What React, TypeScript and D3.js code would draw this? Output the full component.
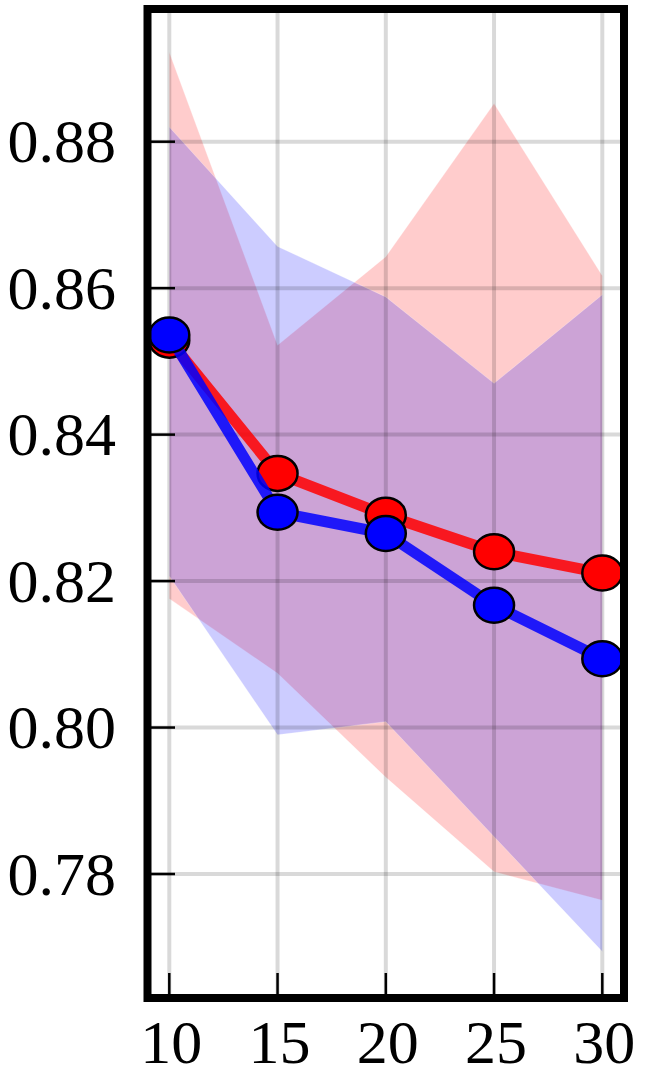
import React from "react";
import * as d3 from "d3";

const xs = [10, 15, 20, 25, 30];
const redMean = [0.8529, 0.8347, 0.829, 0.824, 0.8211];
const blueMean = [0.8536, 0.8294, 0.8265, 0.8167, 0.8094];
const redUpper = [0.8922, 0.8522, 0.8643, 0.8852, 0.8617];
const redLower = [0.8176, 0.8074, 0.7932, 0.7803, 0.7764];
const blueUpper = [0.882, 0.8657, 0.8588, 0.847, 0.8591];
const blueLower = [0.8207, 0.799, 0.8008, 0.7851, 0.7694];
const yTicks = [0.78, 0.8, 0.82, 0.84, 0.86, 0.88];
const xTicks = [10, 15, 20, 25, 30];

const W = 646;
const H = 1076;
const L = 147.5, R = 624, T = 9, B = 998;

export default function App() {
  const x = d3.scaleLinear().domain([10, 30]).range([169.3, 602.3]);
  const y = d3.scaleLinear().domain([0.78, 0.88]).range([874, 141.7]);

  const area = (lo: number[], hi: number[]) =>
    d3
      .area<number>()
      .x((d) => x(d))
      .y0((_, i) => y(lo[i]))
      .y1((_, i) => y(hi[i]))(xs) as string;
  const line = (v: number[]) =>
    d3
      .line<number>()
      .x((d) => x(d))
      .y((_, i) => y(v[i]))(xs) as string;

  const font = "'Liberation Serif', 'Times New Roman', serif";

  return (
    <svg
      width={W}
      height={H}
      style={{ position: "absolute", left: 0, top: 0, background: "#fff" }}
    >
      <path d={area(redLower, redUpper)} fill="rgba(255,0,0,0.2)" stroke="rgba(255,255,255,0.35)" strokeWidth={0.8} />
      <path d={area(blueLower, blueUpper)} fill="rgba(0,0,255,0.2)" stroke="rgba(255,255,255,0.35)" strokeWidth={0.8} />
      {xTicks.map((t) => (
        <line key={"gx" + t} x1={x(t)} x2={x(t)} y1={T} y2={B} stroke="rgba(0,0,0,0.15)" strokeWidth={4} />
      ))}
      {yTicks.map((t) => (
        <line key={"gy" + t} x1={L} x2={R} y1={y(t)} y2={y(t)} stroke="rgba(0,0,0,0.15)" strokeWidth={4} />
      ))}
      {yTicks.map((t) => (
        <g key={"ty" + t}>
          <line x1={L} x2={175} y1={y(t)} y2={y(t)} stroke="#000" strokeWidth={2.5} />
          <text x={116} y={y(t) + 20.5} textAnchor="end" fontFamily={font} fontSize={62} fill="#000">
            {d3.format(".2f")(t)}
          </text>
        </g>
      ))}
      {xTicks.map((t) => (
        <g key={"tx" + t}>
          <line x1={x(t)} x2={x(t)} y1={973} y2={B} stroke="#000" strokeWidth={2.5} />
          <text x={x(t) + 2} y={1063} textAnchor="middle" fontFamily={font} fontSize={62} fill="#000">
            {t}
          </text>
        </g>
      ))}
      <path d={line(redMean)} fill="none" stroke="rgba(255,0,0,0.85)" strokeWidth={11} strokeLinejoin="round" />
      {xs.map((d, i) => (
        <ellipse key={"rm" + i} cx={x(d)} cy={y(redMean[i])} rx={20} ry={17.5} fill="#ff0000" stroke="#000" strokeWidth={2.5} />
      ))}
      <path d={line(blueMean)} fill="none" stroke="rgba(0,0,255,0.85)" strokeWidth={11} strokeLinejoin="round" />
      {xs.map((d, i) => (
        <ellipse key={"bm" + i} cx={x(d)} cy={y(blueMean[i])} rx={20} ry={17.5} fill="#0000ff" stroke="#000" strokeWidth={2.5} />
      ))}
      <rect x={L} y={T} width={R - L} height={B - T} fill="none" stroke="#000" strokeWidth={8} />
    </svg>
  );
}
